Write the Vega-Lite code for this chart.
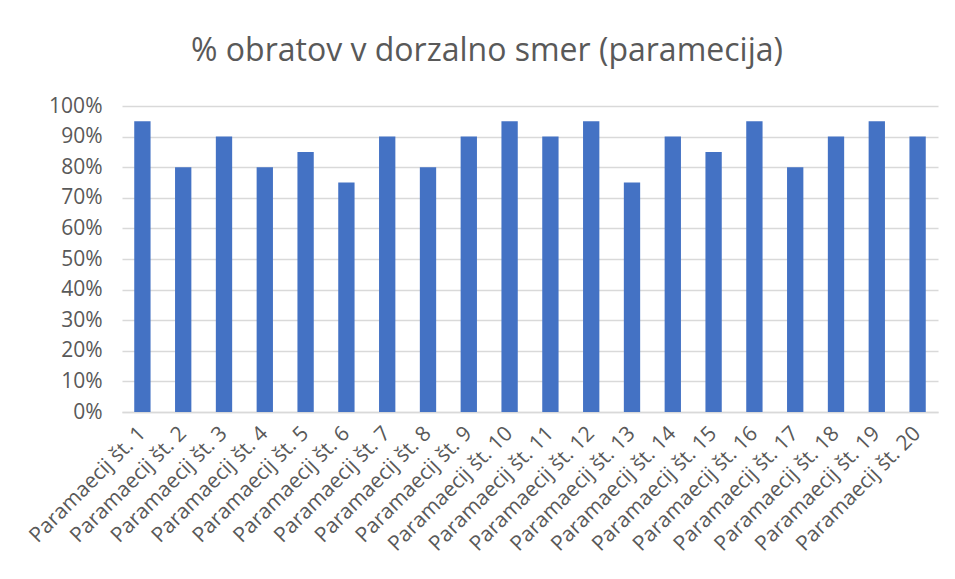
{
  "$schema": "https://vega.github.io/schema/vega-lite/v6.json",
  "width": 816,
  "height": 306,
  "autosize": {"type": "none"},
  "padding": {"left": 122, "top": 106, "right": 17, "bottom": 161},
  "background": "white",
  "title": {
    "text": "% obratov v dorzalno smer (paramecija)",
    "font": "Open Sans",
    "fontSize": 32,
    "fontWeight": "normal",
    "color": "#595959",
    "anchor": "middle",
    "frame": "group",
    "dx": -43,
    "offset": 27
  },
  "data": {
    "values": [
      {"label": "Paramaecij št. 1", "value": 0.95},
      {"label": "Paramaecij št. 2", "value": 0.80},
      {"label": "Paramaecij št. 3", "value": 0.90},
      {"label": "Paramaecij št. 4", "value": 0.80},
      {"label": "Paramaecij št. 5", "value": 0.85},
      {"label": "Paramaecij št. 6", "value": 0.75},
      {"label": "Paramaecij št. 7", "value": 0.90},
      {"label": "Paramaecij št. 8", "value": 0.80},
      {"label": "Paramaecij št. 9", "value": 0.90},
      {"label": "Paramaecij št. 10", "value": 0.95},
      {"label": "Paramaecij št. 11", "value": 0.90},
      {"label": "Paramaecij št. 12", "value": 0.95},
      {"label": "Paramaecij št. 13", "value": 0.75},
      {"label": "Paramaecij št. 14", "value": 0.90},
      {"label": "Paramaecij št. 15", "value": 0.85},
      {"label": "Paramaecij št. 16", "value": 0.95},
      {"label": "Paramaecij št. 17", "value": 0.80},
      {"label": "Paramaecij št. 18", "value": 0.90},
      {"label": "Paramaecij št. 19", "value": 0.95},
      {"label": "Paramaecij št. 20", "value": 0.90}
    ]
  },
  "mark": {"type": "bar", "color": "#4472C4"},
  "encoding": {
    "x": {
      "field": "label",
      "type": "nominal",
      "sort": null,
      "scale": {"paddingInner": 0.6, "paddingOuter": 0.3},
      "axis": {
        "title": null,
        "labelAngle": -45,
        "labelAlign": "right",
        "labelBaseline": "middle",
        "labelFont": "Open Sans",
        "labelFontSize": 21,
        "labelColor": "#595959",
        "labelPadding": 18,
        "ticks": false,
        "domainColor": "#d9d9d9",
        "domainWidth": 1.5,
        "labelOverlap": false
      }
    },
    "y": {
      "field": "value",
      "type": "quantitative",
      "scale": {"domain": [0, 1]},
      "axis": {
        "title": null,
        "format": ".0%",
        "values": [0, 0.1, 0.2, 0.3, 0.4, 0.5, 0.6, 0.7, 0.8, 0.9, 1],
        "labelFont": "Open Sans",
        "labelFontSize": 21,
        "labelColor": "#595959",
        "labelPadding": 20,
        "ticks": false,
        "domain": false,
        "gridColor": "#d9d9d9",
        "gridWidth": 1.5
      }
    }
  },
  "config": {"view": {"stroke": null}}
}
